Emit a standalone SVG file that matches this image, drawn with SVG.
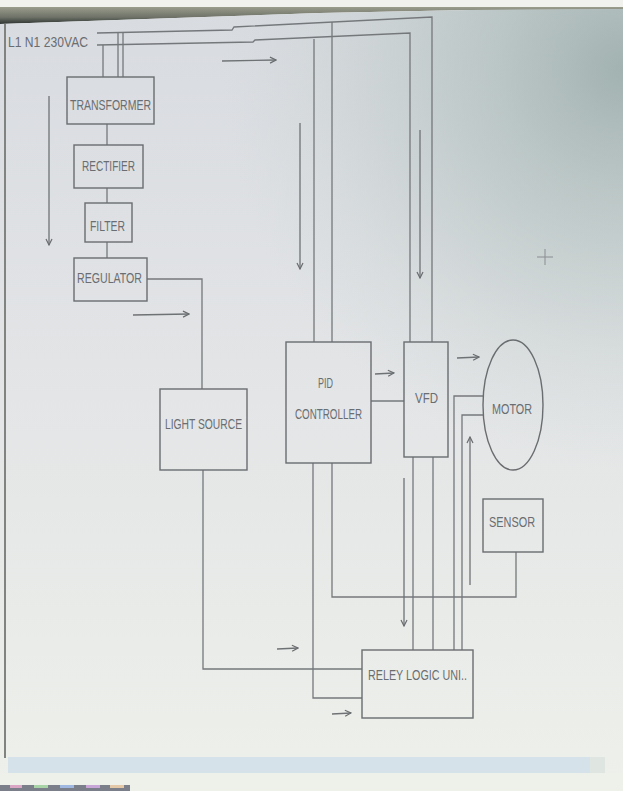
<svg xmlns="http://www.w3.org/2000/svg" width="623" height="791" viewBox="0 0 623 791">
<defs>
<linearGradient id="bgv" x1="0" y1="0" x2="0" y2="1">
<stop offset="0" stop-color="#d8dbe0"/>
<stop offset="0.45" stop-color="#e2e4e6"/>
<stop offset="1" stop-color="#eef0eb"/>
</linearGradient>
<radialGradient id="tint" gradientUnits="userSpaceOnUse" cx="623" cy="70" r="400">
<stop offset="0" stop-color="#98aba8" stop-opacity="0.85"/>
<stop offset="0.5" stop-color="#aebdba" stop-opacity="0.45"/>
<stop offset="1" stop-color="#c8d2d0" stop-opacity="0"/>
</radialGradient>
<linearGradient id="topband" x1="0" y1="0" x2="0" y2="1">
<stop offset="0" stop-color="#9a9d8c"/>
<stop offset="0.6" stop-color="#6e7268"/>
<stop offset="1" stop-color="#2e3432"/>
</linearGradient>
<marker id="ah" viewBox="0 0 8 8" refX="7" refY="4" markerWidth="8" markerHeight="8" markerUnits="userSpaceOnUse" orient="auto">
<path d="M1,1 L7,4 L1,7" fill="none" stroke="#6a6d70" stroke-width="1.2"/>
</marker>
<style>
.box{fill:none;stroke:#6a6d70;stroke-width:1.4}
.ln{fill:none;stroke:#75787b;stroke-width:1.3}
.ar{fill:none;stroke:#6f7275;stroke-width:1.3;marker-end:url(#ah)}
.t{font-family:"Liberation Sans Narrow","Liberation Sans",Arial,sans-serif;font-size:14px;fill:#6a6d71}
</style>
</defs>

<!-- background (photo of a screen) -->
<rect x="0" y="0" width="623" height="791" fill="#f1f1ee"/>
<polygon points="0,7 623,7 623,10 470,10 320,13 0,24" fill="url(#topband)"/>
<polygon points="0,24 320,13 470,10 623,9 623,791 0,791" fill="url(#bgv)"/>
<polygon points="0,24 320,13 470,10 623,9 623,791 0,791" fill="url(#tint)"/>
<line x1="5" y1="24" x2="5" y2="758" stroke="#80837f" stroke-width="2"/>
<rect x="8" y="757" width="597" height="16" fill="#d5e2e9"/>
<rect x="590" y="757" width="15" height="16" fill="#dfe6e2"/>
<rect x="0" y="773" width="623" height="18" fill="#eef0ea"/>
<rect x="0" y="785" width="130" height="6" fill="#7a7f8a"/>
<rect x="10" y="785" width="12" height="3" fill="#d9a6c6"/>
<rect x="34" y="785" width="14" height="3" fill="#a9d4a8"/>
<rect x="60" y="785" width="14" height="3" fill="#9fb8e0"/>
<rect x="86" y="785" width="14" height="3" fill="#c9a6d8"/>
<rect x="110" y="785" width="14" height="3" fill="#e2c8a6"/>
<!-- cursor -->
<line x1="537" y1="257" x2="553" y2="257" stroke="#8a8e90" stroke-width="1"/>
<line x1="545" y1="249" x2="545" y2="265" stroke="#8a8e90" stroke-width="1"/>

<text class="t" x="8" y="47" textLength="80" lengthAdjust="spacingAndGlyphs">L1 N1 230VAC</text>

<!-- connectors -->
<g id="connectors">
<polyline class="ln" points="97,33 232,30 234,27 432,17 432,342"/>
<polyline class="ln" points="97,45 253,42 255,40 410,33 410,342"/>
<line class="ln" x1="103" y1="45" x2="103" y2="77"/>
<line class="ln" x1="118" y1="32" x2="118" y2="77"/>
<line class="ln" x1="123" y1="32" x2="123" y2="77"/>
<line class="ln" x1="314" y1="39" x2="314" y2="342"/>
<line class="ln" x1="332" y1="22" x2="332" y2="342"/>
<line class="ln" x1="107" y1="124" x2="107" y2="145"/>
<line class="ln" x1="107" y1="188" x2="107" y2="203"/>
<line class="ln" x1="107" y1="242" x2="107" y2="258"/>
<polyline class="ln" points="147,279 202,279 202,389"/>
<line class="ln" x1="371" y1="401" x2="404" y2="401"/>
<polyline class="ln" points="483,396 454,396 454,650"/>
<polyline class="ln" points="484,415 462,415 462,650"/>
<line class="ln" x1="413" y1="457" x2="413" y2="650"/>
<line class="ln" x1="433" y1="457" x2="433" y2="650"/>
<polyline class="ln" points="203,470 203,669 362,669"/>
<polyline class="ln" points="313,463 313,698 362,698"/>
<polyline class="ln" points="332,463 332,597 516,597 516,552"/>
<!-- direction arrows -->
<line class="ar" x1="49" y1="96" x2="49" y2="245"/>
<line class="ar" x1="222" y1="61" x2="276" y2="60"/>
<line class="ar" x1="133" y1="315" x2="189" y2="314"/>
<line class="ar" x1="300" y1="123" x2="300" y2="269"/>
<line class="ar" x1="420" y1="130" x2="420" y2="278"/>
<line class="ar" x1="375" y1="374" x2="394" y2="373"/>
<line class="ar" x1="457" y1="358" x2="479" y2="357"/>
<line class="ar" x1="470" y1="585" x2="470" y2="437"/>
<line class="ar" x1="404" y1="478" x2="404" y2="626"/>
<line class="ar" x1="277" y1="649" x2="298" y2="648"/>
<line class="ar" x1="332" y1="714" x2="351" y2="713"/>
</g>

<!-- nodes -->
<g id="transformer">
<rect class="box" x="67" y="77" width="87" height="47"/>
<text class="t" x="70" y="110" textLength="81" lengthAdjust="spacingAndGlyphs">TRANSFORMER</text>
</g>
<g id="rectifier">
<rect class="box" x="74" y="145" width="69" height="43"/>
<text class="t" x="82" y="171" textLength="53" lengthAdjust="spacingAndGlyphs">RECTIFIER</text>
</g>
<g id="filter">
<rect class="box" x="85" y="203" width="47" height="39"/>
<text class="t" x="90" y="231" textLength="35" lengthAdjust="spacingAndGlyphs">FILTER</text>
</g>
<g id="regulator">
<rect class="box" x="74" y="258" width="73" height="43"/>
<text class="t" x="77" y="283" textLength="65" lengthAdjust="spacingAndGlyphs">REGULATOR</text>
</g>
<g id="light-source">
<rect class="box" x="160" y="389" width="87" height="81"/>
<text class="t" x="165" y="429" textLength="77" lengthAdjust="spacingAndGlyphs">LIGHT SOURCE</text>
</g>
<g id="pid-controller">
<rect class="box" x="286" y="342" width="85" height="121"/>
<text class="t" x="318" y="388" textLength="15" lengthAdjust="spacingAndGlyphs">PID</text>
<text class="t" x="295" y="419" textLength="67" lengthAdjust="spacingAndGlyphs">CONTROLLER</text>
</g>
<g id="vfd">
<rect class="box" x="404" y="342" width="44" height="115"/>
<text class="t" x="415" y="403" textLength="23" lengthAdjust="spacingAndGlyphs">VFD</text>
</g>
<g id="motor">
<ellipse class="box" cx="513" cy="405" rx="30" ry="65"/>
<text class="t" x="492" y="414" textLength="40" lengthAdjust="spacingAndGlyphs">MOTOR</text>
</g>
<g id="sensor">
<rect class="box" x="483" y="499" width="60" height="53"/>
<text class="t" x="489" y="527" textLength="46" lengthAdjust="spacingAndGlyphs">SENSOR</text>
</g>
<g id="relay-logic-unit">
<rect class="box" x="362" y="650" width="111" height="68"/>
<text class="t" x="368" y="680" textLength="99" lengthAdjust="spacingAndGlyphs">RELEY LOGIC UNI..</text>
</g>
</svg>
